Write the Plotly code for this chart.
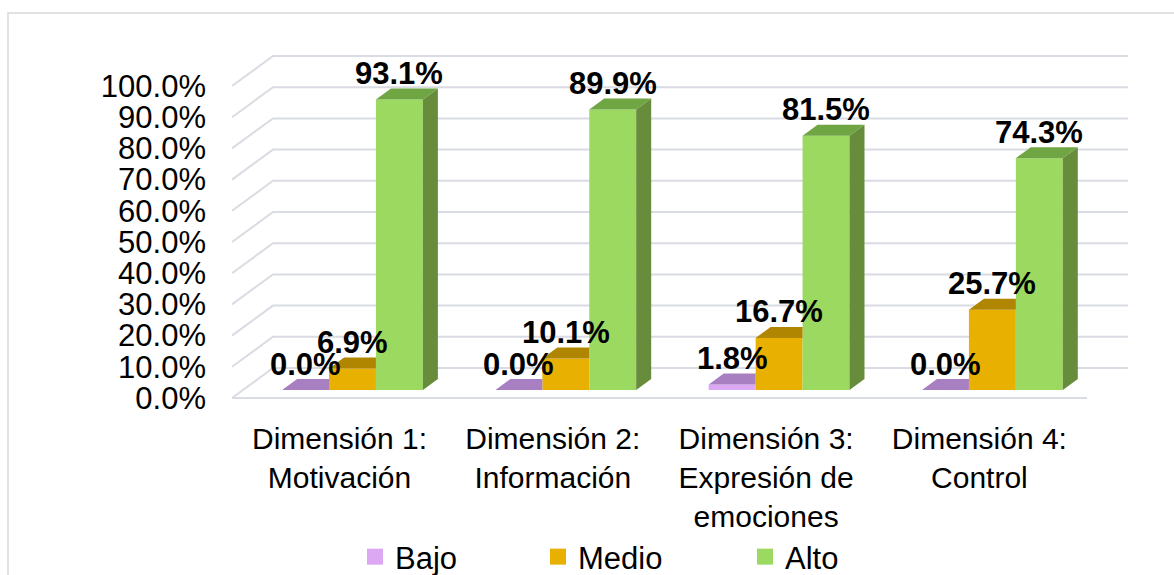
import plotly.graph_objects as go

# ---------------- data ----------------
categorias = [
    "Dimensión 1:<br>Motivación",
    "Dimensión 2:<br>Información",
    "Dimensión 3:<br>Expresión de<br>emociones",
    "Dimensión 4:<br>Control",
]
niveles = ["Bajo", "Medio", "Alto"]
bajo = [0.0, 0.0, 1.8, 0.0]
medio = [6.9, 10.1, 16.7, 25.7]
alto = [93.1, 89.9, 81.5, 74.3]
ticks_pct = [0, 10, 20, 30, 40, 50, 60, 70, 80, 90, 100]

series = [bajo, medio, alto]

# ---------------- styles ----------------
col_front = ["#DCA8F4", "#E8B000", "#9BD960"]
col_top = ["#A87FC0", "#B08600", "#70A543"]
col_side = ["#9670AE", "#9C7700", "#678C3B"]
grid_col = "#D9DCE3"
FONT = "Liberation Sans, Arial, sans-serif"

W, H = 1174, 575
# frame geometry (pixels): bar plane origin and scale
X0_PX, X_STEP = 352.5, 213.3
Y0_PX, Y_STEP = 390.0, 3.12
XPX = (215, 1145)
YPX = (30, 405)
FLOOR_PX = (232, 1087)


def ux(px):
    return (px - X0_PX) / X_STEP


def uy(py):
    return (Y0_PX - py) / Y_STEP


DX, DY = 15 / X_STEP, 11 / Y_STEP            # bar depth
WALL_DX, WALL_DY = 41 / X_STEP, 30 / Y_STEP  # floor depth, front edge -> back wall
FRONT_DY = -8 / Y_STEP                       # floor front edge relative to bar plane
BARGAP = 0.34
bw = (1 - BARGAP) / 3

xs = list(range(len(categorias)))

fig = go.Figure()
for s, vals in enumerate(series):
    fig.add_trace(go.Bar(
        x=xs, y=vals, name=niveles[s],
        marker=dict(color=col_front[s], line=dict(width=0)),
        showlegend=False, hoverinfo="skip",
    ))

# legend proxies, one legend per level
for s, name in enumerate(niveles):
    fig.add_trace(go.Scatter(
        x=[None], y=[None], mode="markers", name=name,
        marker=dict(symbol="square", size=16, color=col_front[s]),
        legend="legend" if s == 0 else f"legend{s + 1}",
    ))

shapes = []

# back wall grid lines with their slanted floor-side returns
fx0, fx1 = ux(FLOOR_PX[0]), ux(FLOOR_PX[1])
for t in ticks_pct:
    yf = t + FRONT_DY
    yb = yf + WALL_DY
    shapes.append(dict(type="path", layer="below",
                       path=f"M {fx0},{yf} L {fx0 + WALL_DX},{yb} L {fx1 + WALL_DX},{yb}",
                       line=dict(color=grid_col, width=2)))
# floor front edge
shapes.append(dict(type="line", layer="below", x0=fx0, x1=fx1,
                   y0=FRONT_DY, y1=FRONT_DY, line=dict(color=grid_col, width=2)))

# 3D faces of each bar
for s, vals in enumerate(series):
    for i, v in enumerate(vals):
        xl = i + (s - 1) * bw - bw / 2
        xr = xl + bw
        covered = s + 1 < len(series) and series[s + 1][i] >= v + DY
        if covered:
            top_path = (f"M {xl},{v} L {xr},{v} L {xr},{v + DY} "
                        f"L {xl + DX},{v + DY} Z")
        else:
            top_path = (f"M {xl},{v} L {xr},{v} L {xr + DX},{v + DY} "
                        f"L {xl + DX},{v + DY} Z")
            shapes.append(dict(type="path", layer="above",
                               path=(f"M {xr},0 L {xr},{v} L {xr + DX},{v + DY} "
                                     f"L {xr + DX},{DY} Z"),
                               fillcolor=col_side[s], line=dict(width=0)))
        shapes.append(dict(type="path", layer="above", path=top_path,
                           fillcolor=col_top[s], line=dict(width=0)))

# outer chart border
shapes.append(dict(type="rect", xref="paper", yref="paper",
                   x0=8 / W, x1=1.02, y0=-0.05, y1=(H - 13) / H,
                   line=dict(color="#D9D9D9", width=1.5), fillcolor="rgba(0,0,0,0)"))

annotations = []
for s, vals in enumerate(series):
    for i, v in enumerate(vals):
        annotations.append(dict(
            x=i + (s - 1) * bw, y=v, xref="x", yref="y",
            text=f"{v:.1f}%", showarrow=False, yshift=26,
            font=dict(family=FONT, size=31, color="#000000", weight="bold"),
        ))

legend_common = dict(
    orientation="h", yanchor="middle", y=(H - 557) / H, xanchor="left",
    font=dict(family=FONT, size=31, color="#000000"),
    bgcolor="rgba(0,0,0,0)", borderwidth=0,
)

fig.update_layout(
    width=W, height=H,
    margin=dict(l=0, r=0, t=0, b=0, autoexpand=False),
    paper_bgcolor="white", plot_bgcolor="white",
    barmode="group", bargap=BARGAP, bargroupgap=0,
    font=dict(family=FONT, color="#000000"),
    xaxis=dict(
        domain=[XPX[0] / W, XPX[1] / W],
        range=[ux(XPX[0]), ux(XPX[1])],
        tickvals=xs, ticktext=categorias,
        tickfont=dict(family=FONT, size=30, color="#000000"),
        ticks="", showgrid=False, zeroline=False, showline=False,
        ticklabelshift=-13, ticklabelstandoff=13,
    ),
    yaxis=dict(
        domain=[(H - YPX[1]) / H, (H - YPX[0]) / H],
        range=[uy(YPX[1]), uy(YPX[0])],
        tickvals=ticks_pct, ticktext=[f"{t:.1f}%" for t in ticks_pct],
        tickfont=dict(family=FONT, size=31, color="#000000"),
        ticks="", showgrid=False, zeroline=False, showline=False,
        ticklabelshift=8, ticklabelstandoff=8,
    ),
    shapes=shapes,
    annotations=annotations,
    legend=dict(x=355 / W, **legend_common),
    legend2=dict(x=538 / W, **legend_common),
    legend3=dict(x=745 / W, **legend_common),
)

fig.write_html("out.html")
